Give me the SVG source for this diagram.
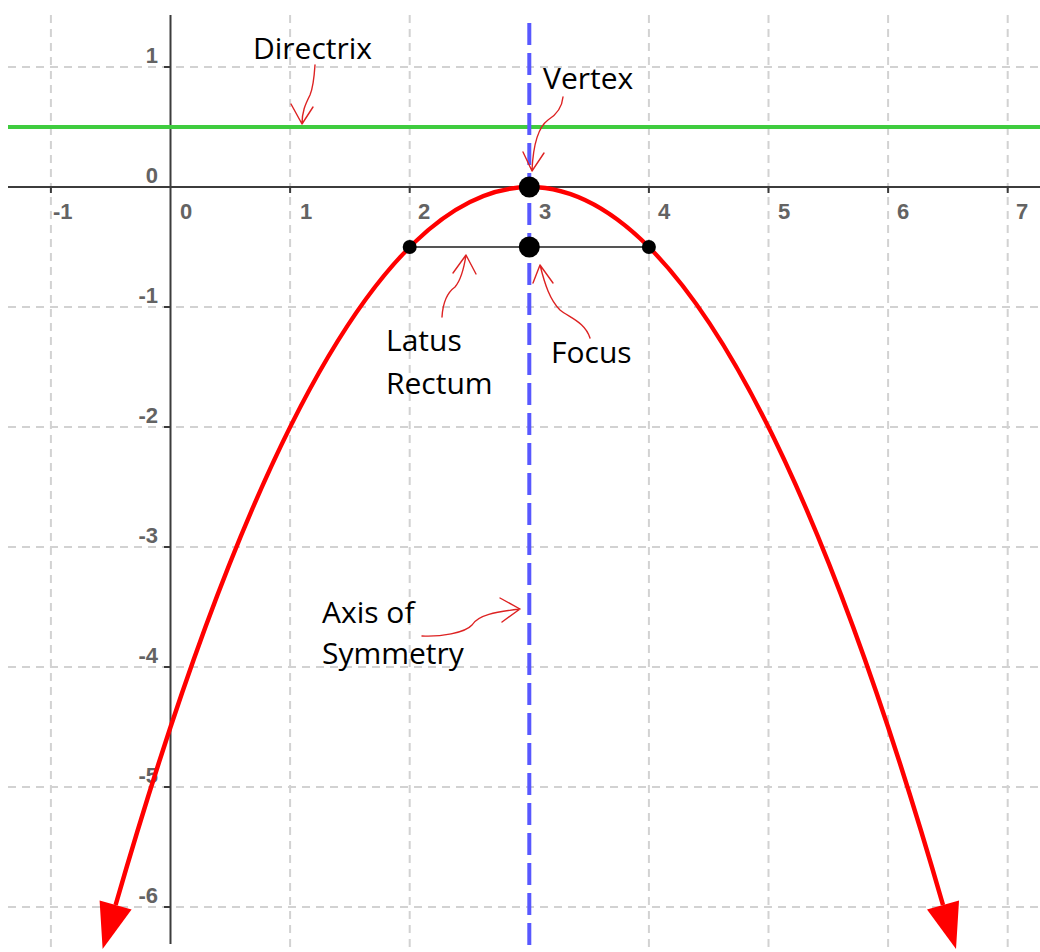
<svg xmlns="http://www.w3.org/2000/svg" width="1040" height="952" viewBox="0 0 1040 952">
<style>
.grid{stroke:#d2d2d2;stroke-width:2;stroke-dasharray:8 6;fill:none}
.axis{stroke:#3c3c3c;stroke-width:2;fill:none}
.tick{stroke:#3c3c3c;stroke-width:2}
.num{font-family:"Liberation Sans",Arial,sans-serif;font-size:22px;font-weight:bold;fill:#636363}
.numy{text-anchor:end}
.lbl{font-family:"Open Sans","Noto Sans",sans-serif;font-size:30px;fill:#000}
.ann{stroke:#dd2222;stroke-width:1.4;fill:none;stroke-linecap:round;stroke-linejoin:round}
</style>
<rect width="1040" height="952" fill="#ffffff"/>
<g id="grid">
<line class="grid" x1="50.9" y1="15" x2="50.9" y2="952"/>
<line class="grid" x1="290.1" y1="15" x2="290.1" y2="952"/>
<line class="grid" x1="409.7" y1="15" x2="409.7" y2="952"/>
<line class="grid" x1="648.9" y1="15" x2="648.9" y2="952"/>
<line class="grid" x1="768.5" y1="15" x2="768.5" y2="952"/>
<line class="grid" x1="888.1" y1="15" x2="888.1" y2="952"/>
<line class="grid" x1="1007.7" y1="15" x2="1007.7" y2="952"/>
<line class="grid" x1="8" y1="67" x2="1040" y2="67"/>
<line class="grid" x1="8" y1="307" x2="1040" y2="307"/>
<line class="grid" x1="8" y1="427" x2="1040" y2="427"/>
<line class="grid" x1="8" y1="547" x2="1040" y2="547"/>
<line class="grid" x1="8" y1="667" x2="1040" y2="667"/>
<line class="grid" x1="8" y1="787" x2="1040" y2="787"/>
<line class="grid" x1="8" y1="907" x2="1040" y2="907"/>
</g>
<g id="axes">
<line class="axis" x1="8" y1="187" x2="1040" y2="187"/>
<line class="axis" x1="170.5" y1="15" x2="170.5" y2="944"/>
<g class="tick">
<line x1="50.9" y1="187" x2="50.9" y2="193"/>
<line x1="290.1" y1="187" x2="290.1" y2="193"/>
<line x1="409.7" y1="187" x2="409.7" y2="193"/>
<line x1="529.3" y1="187" x2="529.3" y2="193"/>
<line x1="648.9" y1="187" x2="648.9" y2="193"/>
<line x1="768.5" y1="187" x2="768.5" y2="193"/>
<line x1="888.1" y1="187" x2="888.1" y2="193"/>
<line x1="1007.7" y1="187" x2="1007.7" y2="193"/>
<line x1="164" y1="67" x2="170.5" y2="67"/>
<line x1="164" y1="307" x2="170.5" y2="307"/>
<line x1="164" y1="427" x2="170.5" y2="427"/>
<line x1="164" y1="547" x2="170.5" y2="547"/>
<line x1="164" y1="667" x2="170.5" y2="667"/>
<line x1="164" y1="787" x2="170.5" y2="787"/>
<line x1="164" y1="907" x2="170.5" y2="907"/>
</g>
<g class="num">
<text x="53" y="219">-1</text>
<text x="180" y="219">0</text>
<text x="300" y="219">1</text>
<text x="418" y="219">2</text>
<text x="539" y="219">3</text>
<text x="658" y="219">4</text>
<text x="778" y="219">5</text>
<text x="897" y="219">6</text>
<text x="1016" y="219">7</text>
<text class="numy" x="158" y="63">1</text>
<text class="numy" x="158" y="183">0</text>
<text class="numy" x="158" y="303">-1</text>
<text class="numy" x="158" y="423">-2</text>
<text class="numy" x="158" y="543">-3</text>
<text class="numy" x="158" y="663">-4</text>
<text class="numy" x="158" y="783">-5</text>
<text class="numy" x="158" y="903">-6</text>
</g>
</g>
<g id="directrix">
<line x1="8" y1="127" x2="1040" y2="127" stroke="#3fcc3f" stroke-width="4"/>
</g>
<g id="axis-of-symmetry">
<line x1="529.3" y1="23" x2="529.3" y2="952" stroke="#5858ff" stroke-width="4" stroke-dasharray="22 8"/>
</g>
<g id="parabola">
<path d="M115.6,905 Q529.3,-530.8 943,905" fill="none" stroke="#ff0000" stroke-width="4.5"/>
<polygon points="102.6,949 131.6,909.4 99.6,900.6" fill="#ff0000"/>
<polygon points="956,949 927,909.4 959,900.6" fill="#ff0000"/>
</g>
<g id="latus-rectum">
<line x1="409.7" y1="247" x2="648.9" y2="247" stroke="#555555" stroke-width="2"/>
<circle cx="409.7" cy="247" r="7" fill="#000"/>
<circle cx="648.9" cy="247" r="7" fill="#000"/>
</g>
<g id="vertex"><circle cx="529.3" cy="187" r="10.5" fill="#000"/></g>
<g id="focus"><circle cx="529.3" cy="247" r="10.5" fill="#000"/></g>
<g id="connectors">
<path class="ann" d="M315,65 C314,80 313,88 310,95 C305,105 302,112 302,124 M291,104 L302,124 L313,107"/>
<path class="ann" d="M563,97 C562,108 556,115 548,120 C537,128 533,150 532,170 M523,152 L532,171 L544,153"/>
<path class="ann" d="M442,317 C443,300 448,292 455,287 C461,280 464,268 466,255 M453,273 L466,255 L476,274"/>
<path class="ann" d="M590,338 C585,322 570,318 560,310 C550,300 545,285 540,265 M533,283 L540,265 L553,283"/>
<path class="ann" d="M422,636 C440,637 465,633 472,625 C478,615 495,612 520,609 M500,598 L520,609 L502,622"/>
</g>
<g id="labels" class="lbl">
<text x="253" y="59">Directrix</text>
<text x="543" y="89">Vertex</text>
<text x="386" y="351">Latus</text>
<text x="386" y="394">Rectum</text>
<text x="551" y="363">Focus</text>
<text x="322" y="623">Axis of</text>
<text x="322" y="664">Symmetry</text>
</g>
</svg>
